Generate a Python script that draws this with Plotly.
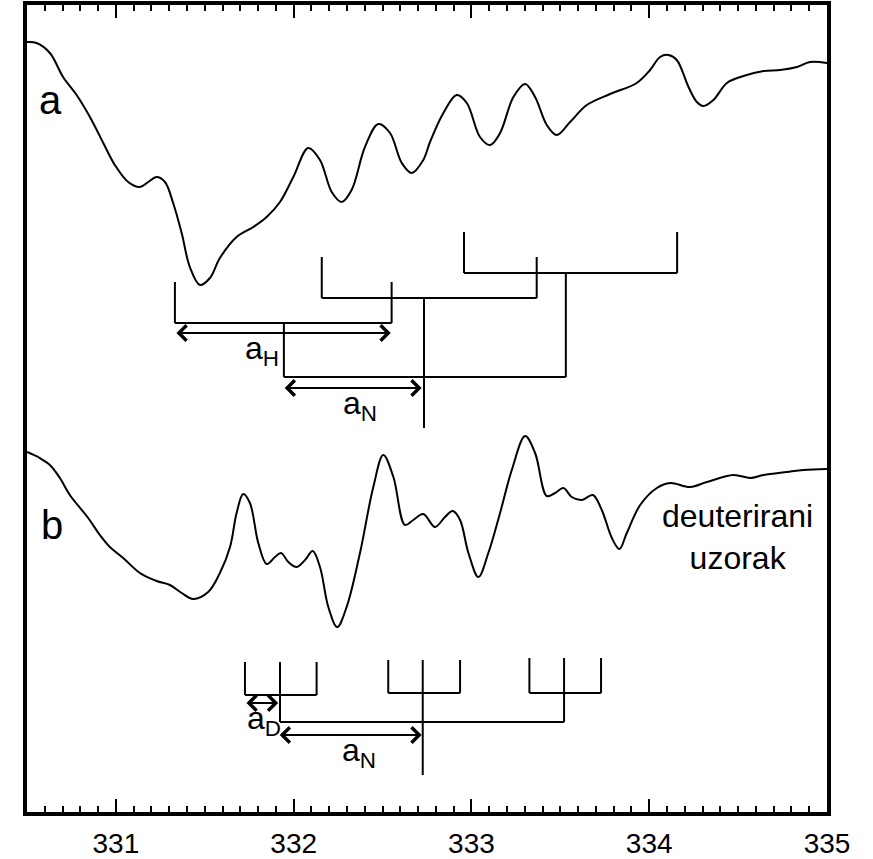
import plotly.graph_objects as go

# ---- data: spectrum a (field in G, intensity in arbitrary units) ----
field_a = [330.50, 330.554, 330.629, 330.703, 330.779, 330.854, 330.929, 330.994, 331.069, 331.135,
           331.182, 331.229, 331.276, 331.322, 331.370, 331.416, 331.473, 331.529, 331.585, 331.679,
           331.773, 331.848, 331.923, 331.998, 332.082, 332.148, 332.214, 332.270, 332.326, 332.401,
           332.476, 332.542, 332.608, 332.664, 332.729, 332.767, 332.842, 332.917, 332.974, 333.048,
           333.105, 333.161, 333.236, 333.302, 333.358, 333.424, 333.480, 333.555, 333.649, 333.780,
           333.930, 334.005, 334.061, 334.108, 334.155, 334.221, 334.268, 334.305, 334.361, 334.437,
           334.530, 334.643, 334.737, 334.831, 334.905, 335.0]
intensity_a = [770, 769, 759, 735, 717, 695, 669, 647, 630, 625,
               630, 635, 630, 609, 579, 545, 527, 534, 554, 575,
               585, 595, 610, 635, 664, 652, 620, 610, 622, 665,
               688, 679, 649, 639, 652, 670, 699, 717, 709, 675,
               667, 679, 715, 728, 715, 687, 677, 690, 707, 718,
               729, 742, 755, 757, 752, 725, 710, 706, 712, 729,
               736, 741, 742, 745, 750, 749]

# ---- data: spectrum b (deuterated sample) ----
field_b = [330.50, 330.572, 330.629, 330.685, 330.741, 330.844, 330.910, 330.966, 331.041, 331.135,
           331.229, 331.304, 331.370, 331.435, 331.519, 331.585, 331.642, 331.679, 331.716, 331.754,
           331.801, 331.848, 331.895, 331.929, 331.970, 332.017, 332.064, 332.107, 332.148, 332.195,
           332.245, 332.298, 332.373, 332.448, 332.504, 332.561, 332.626, 332.673, 332.729, 332.795,
           332.851, 332.895, 332.936, 332.983, 333.039, 333.095, 333.161, 333.227, 333.302, 333.358,
           333.424, 333.470, 333.517, 333.564, 333.621, 333.683, 333.733, 333.790, 333.832, 333.874,
           333.949, 334.043, 334.118, 334.230, 334.324, 334.474, 334.568, 334.643, 334.774, 334.868,
           335.0]
intensity_b = [360, 354, 347, 334, 317, 294, 277, 265, 254, 239,
               231, 227, 219, 213, 220, 239, 265, 299, 318, 309,
               269, 248, 255, 259, 250, 245, 252, 261, 245, 205,
               185, 205, 259, 325, 357, 335, 287, 292, 298, 285,
               295, 301, 292, 259, 235, 259, 299, 342, 376, 359,
               316, 319, 324, 315, 312, 317, 302, 274, 263, 279,
               307, 324, 329, 325, 330, 337, 334, 337, 340, 342,
               343]

# ---- stick diagram a: N triplet split into H doublets ----
a_doublet_left = [331.332, 332.158, 332.958]
a_doublet_right = [332.551, 333.367, 334.157]
a_doublet_center = [331.945, 332.733, 333.531]
a_stick_top = [530, 555, 580]
a_bar_level = [489, 514, 539]
a_nbar_level = 435
a_center_bottom = 384

# ---- stick diagram b: N triplet split into D triplets ----
b_triplets = [[331.726, 331.923, 332.129],
              [332.532, 332.726, 332.936],
              [333.326, 333.521, 333.729]]
b_stick_top = [150, 152, 154]
b_bar_level = [117, 119, 119]
b_nbar_level = 90
b_center_bottom = 37

# ---- arrows (start, end, level) ----
arrow_aH = (331.332, 332.546, 479)
arrow_aN_top = (331.941, 332.720, 424)
arrow_aD = (331.726, 331.913, 109)
arrow_aN_bot = (331.913, 332.720, 77)

# ---- tick values ----
tick_vals = [331, 332, 333, 334, 335]
tick_text = ["331", "332", "333", "334", "335"]

FONT = "Liberation Sans, Arial, sans-serif"

fig = go.Figure()
for fx, fy in [(field_a, intensity_a), (field_b, intensity_b)]:
    fig.add_trace(go.Scatter(x=fx, y=fy, mode="lines",
                             line=dict(color="black", width=2, shape="spline", smoothing=1.0),
                             hoverinfo="skip", showlegend=False))

# stick diagram a
xs, ys = [], []
for i in range(3):
    L, R, c = a_doublet_left[i], a_doublet_right[i], a_doublet_center[i]
    top, bar = a_stick_top[i], a_bar_level[i]
    xs += [L, L, None, R, R, None, L, R, None]
    ys += [top, bar, None, top, bar, None, bar, bar, None]
    bottom = a_center_bottom if i == 1 else a_nbar_level
    xs += [c, c, None]
    ys += [bar, bottom, None]
xs += [a_doublet_center[0], a_doublet_center[2], None]
ys += [a_nbar_level, a_nbar_level, None]

# stick diagram b
for i, trip in enumerate(b_triplets):
    top, bar = b_stick_top[i], b_bar_level[i]
    for s in trip:
        xs += [s, s, None]
        ys += [top, bar, None]
    xs += [trip[0], trip[2], None]
    ys += [bar, bar, None]
    bottom = b_center_bottom if i == 1 else b_nbar_level
    xs += [trip[1], trip[1], None]
    ys += [bar, bottom, None]
xs += [b_triplets[0][1], b_triplets[2][1], None]
ys += [b_nbar_level, b_nbar_level, None]

fig.add_trace(go.Scatter(x=xs, y=ys, mode="lines", line=dict(color="black", width=2),
                         hoverinfo="skip", showlegend=False, connectgaps=False))

annotations = []
for (x0, x1, yl) in [arrow_aH, arrow_aN_top, arrow_aD, arrow_aN_bot]:
    annotations.append(dict(x=x1, y=yl, ax=x0, ay=yl, xref="x", yref="y", axref="x", ayref="y",
                            text="", showarrow=True, arrowhead=4, startarrowhead=4,
                            arrowside="end+start", arrowwidth=2, arrowsize=1.5, startarrowsize=1.5,
                            arrowcolor="black", standoff=0, startstandoff=0))

labels = [
    ("a", 330.634, 712, 40),
    ("b", 330.640, 287, 40),
    ("a<sub>H</sub>", 331.822, 462, 32),
    ("a<sub>N</sub>", 332.373, 407, 32),
    ("a<sub>D</sub>", 331.831, 92, 32),
    ("a<sub>N</sub>", 332.366, 60, 32),
    ("deuterirani<br>uzorak", 334.495, 275, 32),
]
for txt, x, y, fs in labels:
    annotations.append(dict(x=x, y=y, xref="x", yref="y", text=txt, showarrow=False,
                            font=dict(family=FONT, size=fs, color="black"),
                            xanchor="center", yanchor="middle"))

fig.update_layout(
    width=873, height=859,
    margin=dict(l=27, r=46, t=5, b=47, autoexpand=False),
    paper_bgcolor="white", plot_bgcolor="white",
    annotations=annotations,
    showlegend=False,
    font=dict(family=FONT, color="black"),
)
fig.update_xaxes(range=[330.5, 335], tickvals=tick_vals, ticktext=tick_text,
                 ticks="inside", ticklen=13, tickwidth=1.5, tickcolor="black",
                 minor=dict(dtick=0.1, tick0=330.5, ticks="inside", ticklen=6, tickwidth=1.5, tickcolor="black"),
                 showline=True, linewidth=4, linecolor="black", mirror="ticks",
                 showgrid=False, zeroline=False, ticklabelstandoff=3, automargin=False,
                 tickfont=dict(family=FONT, size=28, color="black"))
fig.update_yaxes(range=[0, 807], showticklabels=False, ticks="", automargin=False,
                 showline=True, linewidth=4, linecolor="black", mirror=True,
                 showgrid=False, zeroline=False)

fig.write_html("out.html")
